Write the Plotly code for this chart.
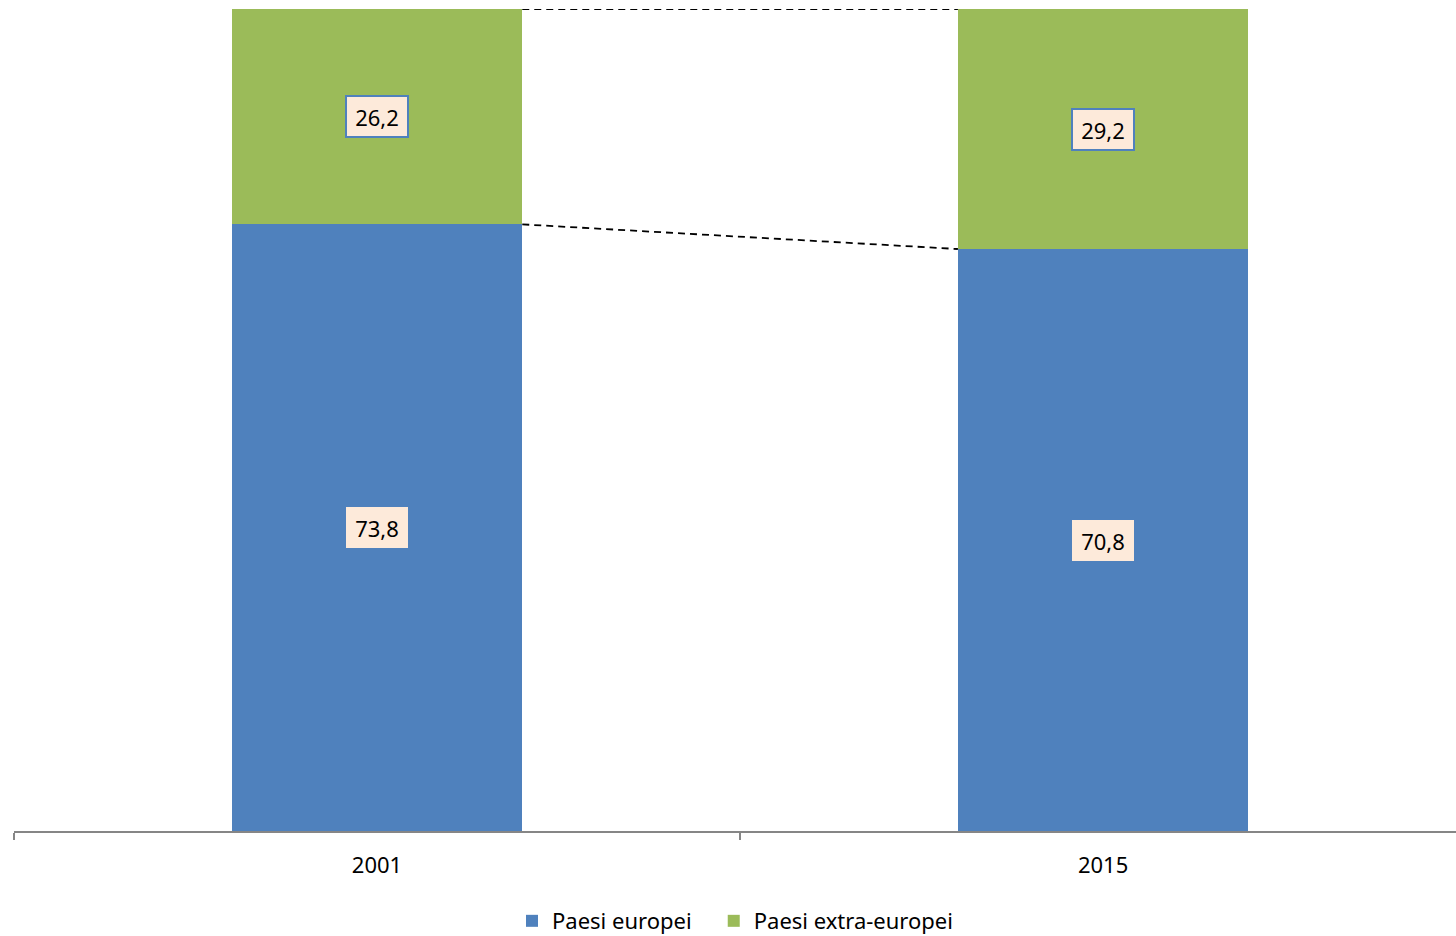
import plotly.graph_objects as go

years = ["2001", "2015"]
europei = [73.8, 70.8]
extra_europei = [26.2, 29.2]
series_names = ["Paesi europei", "Paesi extra-europei"]

blue = "#4F81BD"
green = "#9BBB59"
font_family = "Noto Sans"

fig = go.Figure()
fig.add_trace(go.Bar(x=years, y=europei, name=series_names[0] + "\u00a0" * 3,
                     marker_color=blue, marker_line_width=0, width=0.4))
fig.add_trace(go.Bar(x=years, y=extra_europei, name=series_names[1], marker_color=green,
                     marker_line_width=0, width=0.4))

# dashed connector lines between bar tops (category index positions 0 and 1)
tops_total = [e + x for e, x in zip(europei, extra_europei)]
for ys in (tops_total, europei):
    fig.add_trace(go.Scatter(x=[0.2, 0.8], y=ys, mode="lines", xaxis="x2",
                             line=dict(color="black", width=1.8, dash="7px,5px"),
                             showlegend=False, hoverinfo="skip"))

def fmt(v):
    return f"{v:.1f}".replace(".", ",")

for i, yr in enumerate(years):
    fig.add_annotation(xref="x2", yref="y", x=i, y=europei[i] / 2, text=fmt(europei[i]),
                       showarrow=False, bgcolor="#FDEADA", bordercolor="#FDEADA",
                       borderwidth=1, borderpad=1, width=58, height=37,
                       font=dict(family=font_family, size=22, color="black"))
    fig.add_annotation(xref="x2", yref="y", x=i, y=europei[i] + extra_europei[i] / 2,
                       text=fmt(extra_europei[i]), showarrow=False, bgcolor="#FDEADA",
                       bordercolor="#4F81BD", borderwidth=2, borderpad=1, width=58, height=37,
                       font=dict(family=font_family, size=22, color="black"))

xr = [-0.5, 1.486]
fig.update_layout(
    width=1456, height=936,
    margin=dict(l=14, r=0, t=9, b=105),
    barmode="stack",
    plot_bgcolor="white", paper_bgcolor="white",
    font=dict(family=font_family, size=22, color="black"),
    xaxis=dict(type="category", range=xr, showline=True, linecolor="#868686", linewidth=1.5,
               ticks="outside", tickson="boundaries", ticklen=7, tickcolor="#868686",
               tickwidth=1.5, showgrid=False, zeroline=False, ticklabelstandoff=14,
               tickfont=dict(family=font_family, size=22, color="black")),
    xaxis2=dict(range=xr, overlaying="x", visible=False),
    yaxis=dict(range=[0, 100], visible=False, showgrid=False, zeroline=False),
    legend=dict(orientation="h", x=0.5, xanchor="center", yref="container", y=0.016,
                yanchor="middle", traceorder="normal", itemwidth=30,
                font=dict(family=font_family, size=22, color="black")),
    showlegend=True,
)

fig.write_html("out.html", config={"displayModeBar": False},
               post_script="document.body.style.margin='0';document.body.style.overflow='hidden';")
